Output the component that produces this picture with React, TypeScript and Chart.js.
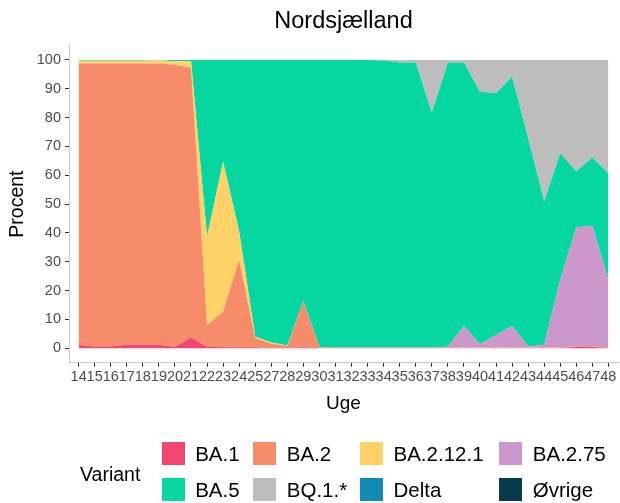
import React, { useEffect, useRef } from "react";
import { Chart, registerables } from "chart.js";
Chart.register(...registerables);

const weeks = ["14","15","16","17","18","19","20","21","22","23","24","25","27","28","29","30","31","32","33","34","35","36","37","38","39","40","41","42","43","44","45","46","47","48"];
const variants = ["BA.1","BA.2","BA.2.12.1","BA.2.75","BA.5","BQ.1.*","Delta","Øvrige"];
const colors = ["#EF476F","#F78C6B","#FFD166","#CC97CB","#06D6A0","#BDBDBD","#118AB2","#073B4C"];

const ba1 = [1.2,0.6,0.6,1.2,1.2,1.2,0.5,3.7,0.5,0.4,0.4,0.4, 0.1,0.1,0.4,0,0,0,0,0,0,0,0,0,0,0,0,0,0,0,0,0.5,0.5,0];
const ba2 = [97.6,98.2,98.2,97.6,97.6,97.6,97.8,93.6,7.6,12.3,30.2,3.1, 1.6,0.7,15.8,0.3,0.3,0.3,0.3,0.3,0.3,0.3,0.3,0.3,0.3,0.3,0.3,0.3,0.3,0.3,0.3,0.2,0.2,0.3];
const ba2121 = [0.9,0.9,0.9,0.9,0.9,1.1,1.2,2.3,30.6,52.0,9.9,0.5, 0.3,0.2,0.1,0.1,0,0,0,0,0,0,0,0,0,0,0,0,0,0,0,0,0,0];
const ba275 = [0,0,0,0,0,0,0,0,0,0,0,0, 0,0,0,0,0,0,0,0,0,0,0,0.2,7.4,1.1,4.3,7.4,0.3,0.9,23.4,41.3,41.8,23.4];
const ba5 = [0.3,0.3,0.3,0.3,0.3,0.1,0.5,0.4,61.3,35.3,59.5,96.0, 98.0,99.0,83.7,99.6,99.7,99.7,99.7,99.5,98.8,98.8,81.4,98.6,91.4,87.6,83.8,86.5,72.2,49.7,43.9,19.3,23.7,37.0];
const bq1 = [0,0,0,0,0,0,0,0,0,0,0,0, 0,0,0,0,0,0,0,0.2,0.9,0.9,18.3,0.9,0.9,11.0,11.6,5.8,27.2,49.1,32.4,38.7,33.8,39.3];
const delta = [0,0,0,0,0,0,0,0,0,0,0,0, 0,0,0,0,0,0,0,0,0,0,0,0,0,0,0,0,0,0,0,0,0,0];
const ovrige = [0,0,0,0,0,0,0,0,0,0,0,0, 0,0,0,0,0,0,0,0,0,0,0,0,0,0,0,0,0,0,0,0,0,0];

const seriesValues = [ba1, ba2, ba2121, ba275, ba5, bq1, delta, ovrige];
const yTicks = [0,10,20,30,40,50,60,70,80,90,100];

const FONT = "'Liberation Sans', Arial, sans-serif";

export default function App() {
  const ref = useRef<HTMLCanvasElement | null>(null);
  useEffect(() => {
    if (!ref.current) return;
    const chart = new Chart(ref.current, {
      type: "line",
      data: {
        datasets: seriesValues.map((vals, i) => ({
          label: variants[i],
          data: vals.map((v, j) => ({ x: j, y: v })),
          backgroundColor: colors[i],
          borderColor: colors[i],
          borderWidth: 0,
          pointRadius: 0,
          tension: 0,
          fill: i === 0 ? "origin" : "-1",
        })),
      },
      options: {
        animation: false,
        responsive: false,
        events: [],
        layout: { padding: { left: 0, right: 2, top: 0, bottom: 85.3 } },
        plugins: {
          legend: { display: false },
          tooltip: { enabled: false },
          title: {
            display: true,
            fullSize: false,
            text: "Nordsjælland",
            color: "#000",
            font: { family: FONT, size: 23.5, weight: "normal" },
            padding: { top: 7.9, bottom: 9.4 },
          },
        },
        scales: {
          x: {
            type: "linear",
            min: -0.6,
            max: 33.6,
            afterBuildTicks: (s: any) => {
              s.ticks = weeks.map((_, i) => ({ value: i }));
            },
            afterFit: (s: any) => {
              s.height = 55;
            },
            ticks: {
              autoSkip: false,
              maxRotation: 0,
              minRotation: 0,
              padding: 2,
              color: "#4D4D4D",
              font: { family: FONT, size: 14.5 },
              callback: (v: any) => weeks[v as number] ?? "",
            },
            grid: { drawOnChartArea: false, drawTicks: true, tickLength: 4, tickColor: "#333333", tickWidth: 1 },
            border: { display: true, color: "#C8C8C8", width: 1 },
            title: {
              display: true,
              text: "Uge",
              color: "#000",
              font: { family: FONT, size: 19 },
              padding: { top: 0, bottom: 2.5 },
            },
          },
          y: {
            type: "linear",
            stacked: true,
            min: -5,
            max: 105,
            afterBuildTicks: (s: any) => {
              s.ticks = yTicks.map((v) => ({ value: v }));
            },
            afterFit: (s: any) => {
              s.width = 69;
            },
            ticks: {
              padding: 4,
              color: "#4D4D4D",
              font: { family: FONT, size: 14.5 },
            },
            grid: { drawOnChartArea: false, drawTicks: true, tickLength: 4, tickColor: "#333333", tickWidth: 1 },
            border: { display: true, color: "#C8C8C8", width: 1 },
            title: {
              display: true,
              text: "Procent",
              color: "#000",
              font: { family: FONT, size: 19.5 },
              padding: { top: 6, bottom: 0 },
            },
          },
        },
      },
    } as any);
    return () => chart.destroy();
  }, []);

  const colLeft = [161.7, 253.3, 360, 499.3];
  const rowTop = [441.7, 478];

  return (
    <div style={{ position: "absolute", left: 0, top: 0, width: 620, height: 503, background: "#fff", fontFamily: FONT }}>
      <canvas ref={ref} width={620} height={503} style={{ position: "absolute", left: 0, top: 0 }} />
      <div style={{ position: "absolute", left: 80, top: 474 - 12, height: 24, lineHeight: "24px", fontSize: 19.5, color: "#000" }}>
        Variant
      </div>
      {variants.map((name, i) => {
        const col = i % 4;
        const row = Math.floor(i / 4);
        return (
          <div key={name} style={{ position: "absolute", left: colLeft[col], top: rowTop[row], height: 23 }}>
            <div style={{ position: "absolute", left: 0, top: 0, width: 23, height: 23, background: colors[i] }} />
            <div style={{ position: "absolute", left: 33.5, top: 0, height: 23, lineHeight: "23px", fontSize: 20.5, color: "#000", whiteSpace: "nowrap" }}>
              {name}
            </div>
          </div>
        );
      })}
    </div>
  );
}
